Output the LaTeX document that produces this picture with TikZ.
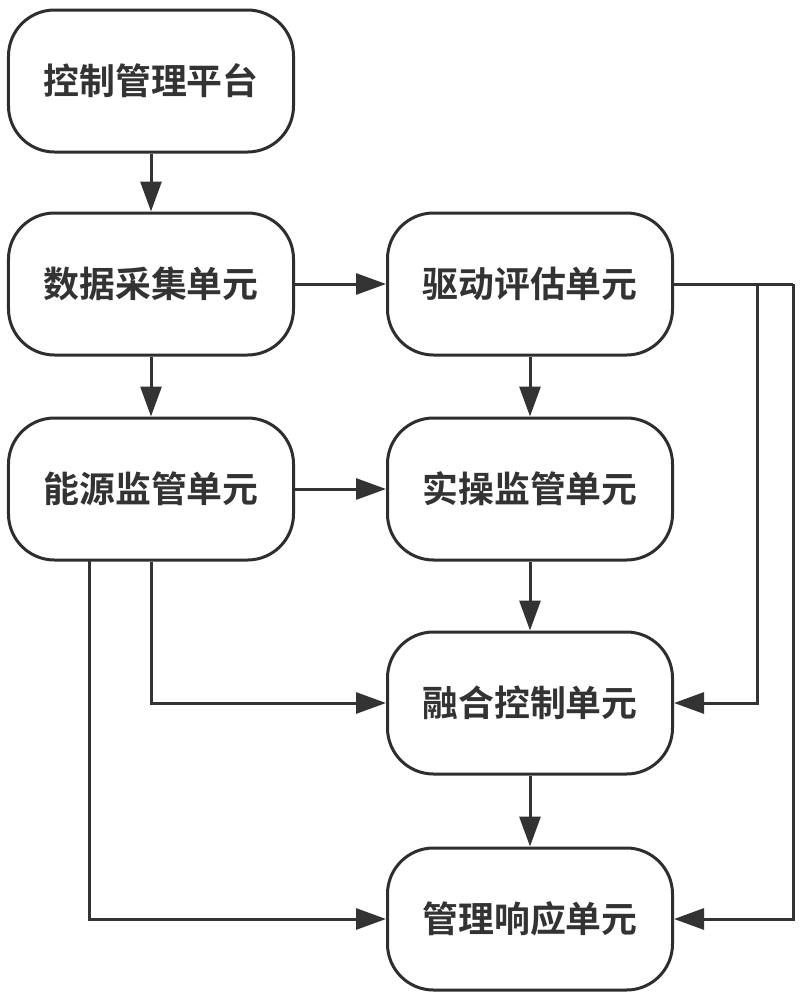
\documentclass[tikz,border=0pt]{standalone}
\usepackage{fontspec}
\newfontfamily\cjk{Noto Sans CJK SC}[BoldFont={* Bold}]
\usetikzlibrary{arrows.meta}
\begin{document}
\begin{tikzpicture}[x=1bp,y=-1bp,
  unit/.style={draw=black!82, line width=3bp, rounded corners=46bp, minimum width=285bp, minimum height=142bp, inner sep=0pt, font=\cjk\bfseries\fontsize{36}{40}\selectfont, text=black!80},
  link/.style={draw=black!80, line width=3bp},
  arr/.style={link, -{Triangle[length=30bp,width=21bp]}}]
\useasboundingbox (0,0) rectangle (804,1000);
\node[unit] (p) at (151,81) {控制管理平台};
\node[unit] (d) at (151,284) {数据采集单元};
\node[unit] (e) at (151,489) {能源监管单元};
\node[unit] (q) at (530,284) {驱动评估单元};
\node[unit] (s) at (530,489) {实操监管单元};
\node[unit] (f) at (530,703) {融合控制单元};
\node[unit] (r) at (530,919) {管理响应单元};
\coordinate (b1) at (757,284);
\coordinate (b2) at (793,284);
\coordinate (c1) at (89,560);
\draw[arr] (p) -- (d);
\draw[arr] (d) -- (e);
\draw[arr] (d) -- (q);
\draw[arr] (e) -- (s);
\draw[arr] (q) -- (s);
\draw[arr] (s) -- (f);
\draw[arr] (f) -- (r);
\draw[arr] (e.south) |- (f.west);
\draw[arr] (c1) |- (r.west);
\draw[link] (q.east) -- (b2);
\draw[arr] (b2) |- (r.east);
\draw[arr] (b1) |- (f.east);
\end{tikzpicture}
\end{document}
